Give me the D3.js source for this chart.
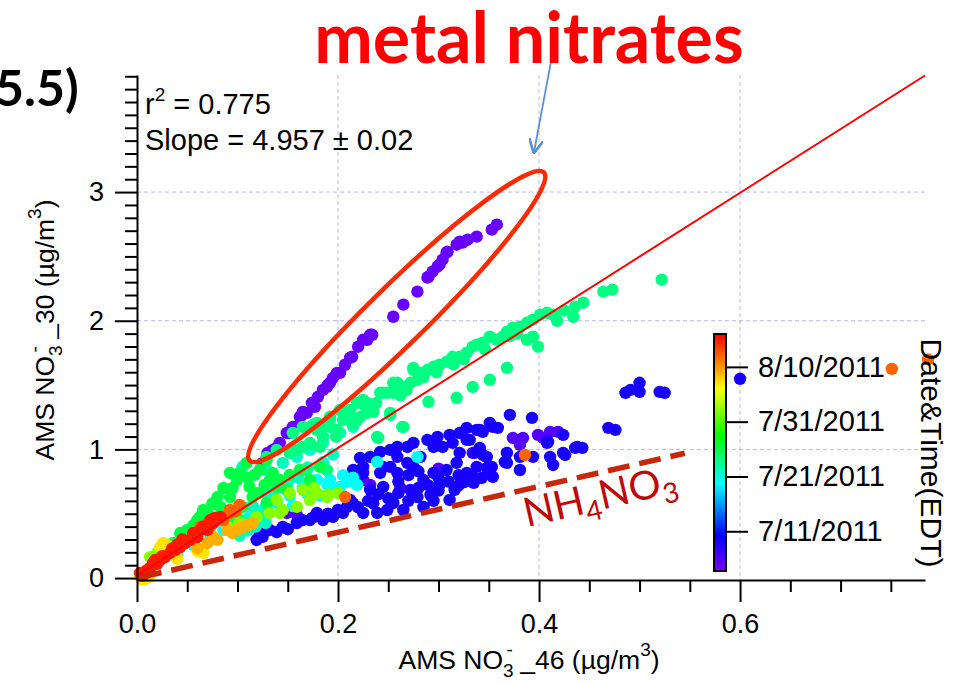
<!DOCTYPE html>
<html lang="en">
<head>
<meta charset="utf-8">
<title>AMS nitrate 30 vs 46</title>
<script src="https://d3js.org/d3.v7.min.js"></script>
<style>
  body { margin: 0; background: #fff; }
  svg text { font-family: "Liberation Sans", Arial, sans-serif; }
</style>
</head>
<body>
<script>
// points, grouped by (approximate) date of colour
var violetPts = [[0.358,2.747],[0.353,2.708],[0.338,2.654],[0.329,2.630],[0.321,2.615],[0.318,2.591],[0.324,2.607],[0.309,2.537],[0.308,2.529],[0.304,2.475],[0.301,2.436],[0.299,2.420],[0.294,2.381],[0.290,2.342],[0.289,2.335],[0.279,2.226],[0.265,2.125],[0.255,2.031],[0.234,1.891],[0.232,1.891],[0.229,1.852],[0.225,1.852],[0.220,1.798],[0.214,1.720],[0.212,1.712],[0.207,1.658],[0.202,1.595],[0.199,1.595],[0.195,1.556],[0.192,1.518],[0.190,1.502],[0.189,1.486],[0.185,1.463],[0.180,1.409],[0.177,1.331],[0.174,1.362],[0.169,1.284],[0.165,1.292],[0.164,1.268],[0.162,1.253],[0.157,1.175],[0.155,1.175],[0.152,1.128],[0.149,1.128],[0.142,1.051],[0.139,1.012],[0.135,0.996],[0.130,0.973],[0.130,0.957],[0.125,0.895]];
var blueVioletPts = [[0.374,1.089],[0.384,1.089],[0.381,1.035],[0.399,1.113],[0.411,1.136],[0.419,1.136],[0.404,1.089],[0.225,0.763],[0.232,0.724],[0.149,0.506],[0.159,0.490],[0.334,0.973],[0.262,0.700],[0.300,0.850]];
var bluePts = [[0.371,1.268],[0.393,1.245],[0.351,1.206],[0.359,1.167],[0.338,1.152],[0.344,1.136],[0.331,1.074],[0.341,1.012],[0.336,0.973],[0.344,0.957],[0.338,0.864],[0.348,0.856],[0.353,0.864],[0.354,0.786],[0.343,0.778],[0.334,0.786],[0.366,0.903],[0.368,0.973],[0.381,0.942],[0.381,0.840],[0.394,0.942],[0.409,1.058],[0.424,1.113],[0.411,0.942],[0.414,0.879],[0.426,0.957],[0.436,1.012],[0.443,1.012],[0.469,1.167],[0.476,1.152],[0.486,1.440],[0.491,1.463],[0.500,1.518],[0.500,1.447],[0.520,1.447],[0.525,1.440],
  [0.354,1.175],[0.341,1.152],[0.328,1.167],[0.321,1.128],[0.311,1.113],[0.299,1.097],[0.328,1.074],[0.314,1.051],[0.304,1.019],[0.295,1.019],[0.289,1.074],[0.275,1.051],[0.269,1.019],[0.259,1.019],[0.252,0.996],[0.242,0.981],[0.232,0.942],[0.222,0.934],[0.282,0.942],[0.321,0.973],[0.341,0.996],[0.269,0.895],[0.252,0.864],[0.225,0.864],[0.318,0.895],[0.348,0.942],[0.308,0.840],[0.295,0.817],[0.242,0.817],[0.215,0.840],[0.351,0.817],[0.328,0.817],[0.408,1.051],[0.424,0.973],[0.438,1.019],[0.368,0.895],
  [0.259,0.942],[0.245,0.864],[0.225,0.817],[0.219,0.763],[0.232,0.685],[0.212,0.607],[0.245,0.708],[0.259,0.817],[0.275,0.864],[0.285,0.763],[0.272,0.685],[0.255,0.584],[0.239,0.506],[0.225,0.506],[0.205,0.506],[0.195,0.475],[0.185,0.451],[0.172,0.451],[0.159,0.428],[0.145,0.397],[0.132,0.374],[0.122,0.350],[0.119,0.296],[0.285,0.553],[0.265,0.529],[0.279,0.630],[0.249,0.529],[0.209,0.553],[0.179,0.506],
  [0.301,0.724],[0.316,0.685],[0.326,0.747],[0.311,0.607],[0.292,0.646],[0.125,0.320],[0.139,0.358],[0.150,0.380],[0.600,1.549],
  [0.220,0.550],[0.235,0.580],[0.250,0.620],[0.260,0.660],[0.270,0.600],[0.280,0.700],[0.290,0.720],[0.300,0.780],[0.310,0.750],[0.320,0.800],[0.260,0.750],[0.240,0.650],[0.230,0.600],[0.215,0.580],[0.200,0.530],[0.190,0.500],[0.175,0.470],[0.165,0.450],[0.270,0.800],[0.280,0.830],[0.300,0.680],[0.320,0.720],[0.335,0.740],[0.295,0.600]];
var cyanPts = [[0.239,0.903],[0.279,0.942],[0.202,0.708],[0.192,0.763],[0.179,0.763],[0.165,0.708],[0.209,0.747],[0.219,0.724],[0.196,0.685],[0.152,0.640],[0.139,0.584],[0.125,0.529],[0.112,0.475],[0.099,0.428],[0.086,0.374],[0.073,0.319],[0.056,0.257],[0.040,0.187],[0.155,0.560],[0.182,0.640],[0.205,0.800],[0.215,0.780],[0.190,0.720],[0.170,0.650]];
var aquaPts = [[0.0925,0.397],[0.109,0.451],[0.125,0.506],[0.102,0.330],[0.115,0.560],[0.130,0.640],[0.145,0.700],[0.105,0.864],[0.129,0.840],[0.145,0.895],[0.159,0.942],[0.172,0.996],[0.185,1.051],[0.202,1.128],[0.215,1.175],[0.135,0.660],[0.160,0.780],[0.170,0.860],[0.080,0.470],[0.066,0.420],[0.118,0.400],[0.110,0.370],[0.128,0.430],[0.150,0.740],[0.185,0.900],[0.195,0.960]];
var greenPts = [[0.522,2.319],[0.473,2.241],[0.464,2.226],[0.444,2.140],[0.436,2.109],[0.434,2.031],[0.414,2.047],[0.408,2.062],[0.401,2.047],[0.394,2.008],[0.388,1.984],[0.381,1.953],[0.374,1.946],[0.399,1.798],[0.394,1.876],[0.388,1.852],[0.368,1.914],[0.364,1.876],[0.358,1.852],[0.351,1.876],[0.344,1.829],[0.338,1.813],[0.334,1.798],[0.368,1.634],[0.351,1.541],[0.334,1.486],[0.318,1.401],[0.290,1.370],[0.328,1.751],[0.321,1.720],[0.314,1.720],[0.308,1.681],[0.301,1.658],[0.295,1.642],[0.289,1.619],[0.282,1.595],[0.275,1.619],[0.279,1.541],[0.272,1.518],[0.265,1.486],[0.259,1.518],[0.255,1.440],[0.249,1.440],[0.242,1.440],[0.252,1.284],[0.265,1.175],[0.239,1.097],[0.229,1.284],[0.219,1.230],[0.209,1.284],[0.202,1.307],[0.192,1.230],[0.185,1.175],[0.175,1.191],[0.165,1.175],[0.155,1.128],
  [0.275,1.634],[0.255,1.518],[0.245,1.440],[0.235,1.292],[0.225,1.385],[0.222,1.253],[0.212,1.307],[0.205,1.230],[0.199,1.152],[0.192,1.175],[0.185,1.097],[0.179,1.152],[0.172,1.051],[0.165,1.019],[0.159,0.996],[0.152,0.973],[0.240,1.089],[0.252,1.268],[0.264,1.175],[0.179,1.206],[0.192,1.253],[0.205,1.292],[0.129,0.942],[0.139,0.996],[0.229,1.362],[0.219,1.362],[0.189,0.840],[0.169,0.840],
  [0.425,2.080],[0.418,2.000],[0.378,1.900],[0.371,1.880],[0.346,1.780],[0.325,1.700],[0.315,1.660],[0.298,1.600],[0.285,1.560],[0.268,1.460],[0.262,1.420],[0.238,1.360],[0.228,1.320],[0.215,1.200],[0.198,1.100],[0.182,1.020]];
var green2Pts = [[0.0995,0.763],[0.112,0.708],[0.0925,0.630],[0.083,0.553],[0.070,0.506],[0.060,0.451],[0.050,0.374],[0.043,0.350],[0.122,0.840],[0.135,0.817],[0.139,0.708],[0.149,0.685],[0.115,0.630],[0.105,0.553],[0.129,0.584],[0.0995,0.475],[0.090,0.451],[0.080,0.630],[0.066,0.529],[0.073,0.397],[0.053,0.296],[0.036,0.272],[0.026,0.218],[0.0925,0.817],[0.109,0.895],[0.129,0.918],[0.102,0.817],[0.162,0.840],[0.172,0.763],[0.152,0.802],[0.142,0.763],[0.127,0.724],[0.117,0.802],[0.182,0.864],
  [0.086,0.700],[0.075,0.580],[0.095,0.700],[0.110,0.780],[0.120,0.660],[0.132,0.760],[0.056,0.410],[0.046,0.320],[0.063,0.480]];
var yellowGreenPts = [[0.165,0.685],[0.152,0.661],[0.139,0.607],[0.179,0.661],[0.189,0.630],[0.172,0.607],[0.159,0.553],[0.145,0.529],[0.132,0.506],[0.119,0.475],[0.142,0.506],[0.102,0.428],[0.090,0.397],[0.020,0.195],[0.013,0.163],[0.176,0.700],[0.200,0.660],[0.190,0.650],[0.030,0.260]];
var yellowPts = [[0.003,0.008],[0.010,0.039],[0.023,0.241],[0.026,0.272],[0.066,0.195],[0.008,-0.008],[0.016,0.090],[0.040,0.150],[0.060,0.210],[0.005,-0.012],[0.012,0.010]];
var yellowOrangePts = [[0.090,0.374],[0.0995,0.374],[0.080,0.296],[0.070,0.272],[0.105,0.397],[0.115,0.428],[0.076,0.319],[0.060,0.233],[0.110,0.410],[0.095,0.350]];
var orangePts = [[0.0925,0.506],[0.086,0.451],[0.080,0.451],[0.0925,0.529],[0.102,0.568],[0.070,0.420],[0.063,0.400],[0.098,0.520],[0.207,0.630],[0.386,0.957],[0.751,1.626],[0.787,1.700]];
var redPts = [[0.063,0.374],[0.053,0.296],[0.043,0.241],[0.033,0.195],[0.023,0.140],[0.016,0.117],[0.010,0.062],[0.003,0.039],[0.073,0.451],[0.083,0.475],[0.060,0.319],[0.076,0.428],[0.070,0.374],[0.048,0.272],[0.038,0.218],[0.028,0.163],[0.006,0.020],[0.013,0.080],[0.020,0.110],
  [0.056,0.350],[0.066,0.400],[0.045,0.300],[0.035,0.230],[0.025,0.170],[0.018,0.140],[0.008,0.050],[0.040,0.260],[0.078,0.470]];

var groupPts = [violetPts, blueVioletPts, bluePts, cyanPts, aquaPts, greenPts, green2Pts, yellowGreenPts, yellowPts, yellowOrangePts, orangePts, redPts];
var groupDates = ["2011-07-05", "2011-07-06", "2011-07-09", "2011-07-20", "2011-07-22", "2011-07-24", "2011-07-26", "2011-08-02", "2011-08-07", "2011-08-09", "2011-08-12", "2011-08-15"];

var xMajor = [0, 0.2, 0.4, 0.6];
var yMajor = [0, 1, 2, 3];
var cbarTicks = ["2011-07-11", "2011-07-21", "2011-07-31", "2011-08-10"];
var cbarStops = [0, 0.15, 0.37, 0.57, 0.77, 0.88, 1];
var cbarColors = ["#7f00ff", "#0000ff", "#00ffff", "#00ff00", "#ffff00", "#ff8000", "#ff0000"];
var fitSlope = 4.957, fitIntercept = 0.02;
var nhSlope = 1.78;

var w = 963, h = 684;
var parse = d3.timeParse("%Y-%m-%d");

var svg = d3.select("body").append("svg")
    .attr("width", w).attr("height", h)
    .style("background", "#fff");

var x = d3.scaleLinear().domain([0, 0.784]).range([137, 925]);
var y = d3.scaleLinear().domain([-0.015, 3.91]).range([580, 75]);

var tScale = d3.scaleTime()
    .domain([new Date(2011, 6, 3, 18), new Date(2011, 7, 16, 0)])
    .range([0, 1]);
var color = d3.scaleLinear().domain(cbarStops).range(cbarColors);

// grid
var gridC = "#b8b8f0";
svg.append("g").selectAll("line").data(xMajor.slice(1)).enter().append("line")
    .attr("x1", d => x(d)).attr("x2", d => x(d))
    .attr("y1", y(3.91)).attr("y2", y(-0.015))
    .attr("stroke", gridC).attr("stroke-dasharray", "4,3");
svg.append("g").selectAll("line").data(yMajor.slice(1)).enter().append("line")
    .attr("x1", x(0)).attr("x2", x(0.784))
    .attr("y1", d => y(d)).attr("y2", d => y(d))
    .attr("stroke", gridC).attr("stroke-dasharray", "4,3");

// points
var pts = [];
groupPts.forEach(function(g, i) {
  var dt = parse(groupDates[i]);
  g.forEach(function(p) { pts.push({x: p[0], y: p[1], date: dt}); });
});
pts.sort((a, b) => a.date - b.date);

svg.append("g").selectAll("circle").data(pts).enter().append("circle")
    .attr("cx", d => x(d.x)).attr("cy", d => y(d.y))
    .attr("r", 6.2)
    .attr("fill", d => color(tScale(d.date)));

// fit line
svg.append("line")
    .attr("x1", x(0)).attr("y1", y(fitIntercept))
    .attr("x2", x(0.784)).attr("y2", y(fitSlope * 0.784 + fitIntercept))
    .attr("stroke", "#ff0000").attr("stroke-width", 2);

// NH4NO3 line
svg.append("line")
    .attr("x1", x(0.003)).attr("y1", y(nhSlope * 0.003))
    .attr("x2", x(0.545)).attr("y2", y(nhSlope * 0.545))
    .attr("stroke", "#c8280a").attr("stroke-width", 5.5)
    .attr("stroke-dasharray", "22,10");

// ellipse round the metal nitrates
var ec = [0.2584, 2.033];
svg.append("ellipse")
    .attr("transform", "translate(" + x(ec[0]) + "," + y(ec[1]) + ") rotate(-44.4)")
    .attr("rx", 206).attr("ry", 29)
    .attr("fill", "none").attr("stroke", "#ff2a00").attr("stroke-width", 4.5);

// arrow
var a0 = [0.413, 4.06], a1 = [0.395, 3.31];
svg.append("defs").append("marker")
    .attr("id", "ah").attr("viewBox", "0 0 10 10")
    .attr("refX", 9).attr("refY", 5)
    .attr("markerWidth", 8).attr("markerHeight", 8)
    .attr("orient", "auto")
  .append("path").attr("d", "M0,0L10,5L0,10")
    .attr("fill", "none").attr("stroke", "#5b8fd0").attr("stroke-width", 1.8);
svg.append("line")
    .attr("x1", x(a0[0])).attr("y1", y(a0[1]))
    .attr("x2", x(a1[0])).attr("y2", y(a1[1]))
    .attr("stroke", "#5b8fd0").attr("stroke-width", 1.8)
    .attr("marker-end", "url(#ah)");

// axes
var xAxis = svg.append("g").attr("transform", "translate(0," + y(-0.015) + ")");
xAxis.call(d3.axisBottom(x).tickValues(d3.range(0.05, 0.78, 0.05).filter(d => Math.abs(d * 5 - Math.round(d * 5)) > 0.01))
    .tickSize(12).tickSizeOuter(0).tickFormat(""));
xAxis.call(g => g.select(".domain").remove());
var xAxisMaj = svg.append("g").attr("transform", "translate(0," + y(-0.015) + ")")
    .call(d3.axisBottom(x).tickValues(xMajor).tickSize(22).tickSizeOuter(0)
      .tickPadding(12).tickFormat(d3.format(".1f")));

var yAxis = svg.append("g").attr("transform", "translate(" + x(0) + ",0)");
yAxis.call(d3.axisLeft(y).tickValues(d3.range(0.1, 3.95, 0.1).filter(d => Math.abs(d - Math.round(d)) > 0.01))
    .tickSize(12).tickSizeOuter(0).tickFormat(""));
yAxis.call(g => g.select(".domain").remove());
var yAxisMaj = svg.append("g").attr("transform", "translate(" + x(0) + ",0)")
    .call(d3.axisLeft(y).tickValues(yMajor).tickSize(22).tickSizeOuter(0)
      .tickPadding(11).tickFormat(d3.format("d")));

svg.selectAll(".tick line").attr("stroke-width", 2);
svg.selectAll(".domain").attr("stroke-width", 2);
svg.selectAll(".tick text").style("font-size", "27px").attr("fill", "#000");

// axis titles
function chemLabel(sel, name) {
  sel.append("tspan").text("AMS NO");
  sel.append("tspan").text("3").attr("font-size", "19px").attr("dy", 8);
  sel.append("tspan").text("-").attr("font-size", "19px").attr("dy", -21).attr("dx", -7);
  sel.append("tspan").text(" _" + name + "  (\u00b5g/m").attr("dy", 13);
  sel.append("tspan").text("3").attr("font-size", "19px").attr("dy", -13);
  sel.append("tspan").text(")").attr("dy", 13);
}
svg.append("text")
    .attr("x", 529).attr("y", 669)
    .attr("text-anchor", "middle").style("font-size", "26.5px")
    .call(chemLabel, "46");
svg.append("text")
    .attr("transform", "translate(54,330) rotate(-90)")
    .attr("text-anchor", "middle").style("font-size", "26.5px")
    .call(chemLabel, "30");

// stats text
var r2 = svg.append("text").attr("x", 145).attr("y", 114).style("font-size", "29px");
r2.append("tspan").text("r");
r2.append("tspan").text("2").attr("font-size", "19px").attr("dy", -13);
r2.append("tspan").text(" = 0.775").attr("dy", 13);
svg.append("text").attr("x", 145).attr("y", 150).style("font-size", "29px")
    .text("Slope = 4.957 \u00b1 0.02");

// titles
svg.append("text").attr("x", 529).attr("y", 63)
    .attr("text-anchor", "middle")
    .style("font-family", "Lato, 'Open Sans', sans-serif")
    .style("font-weight", "bold").style("font-size", "70px")
    .attr("fill", "#ff0000").text("metal nitrates");
svg.append("text").attr("x", -5).attr("y", 106)
    .style("font-family", "Lato, 'Open Sans', sans-serif")
    .style("font-weight", "bold").style("font-size", "50px")
    .text("5.5)");

var nh = svg.append("text")
    .attr("transform", "translate(527,527) rotate(-13)")
    .style("font-family", "Lato, 'Open Sans', sans-serif")
    .style("font-size", "40px").attr("fill", "#c00808");
nh.append("tspan").text("NH");
nh.append("tspan").text("4").attr("font-size", "28px").attr("dy", 9);
nh.append("tspan").text("NO").attr("dy", -9);
nh.append("tspan").text("3").attr("font-size", "28px").attr("dy", 9);

// colour bar
var cb = {x: 714, y: 334, w: 12, h: 237};
var grad = svg.select("defs").append("linearGradient")
    .attr("id", "cbg").attr("x1", 0).attr("y1", 1).attr("x2", 0).attr("y2", 0);
grad.selectAll("stop").data(cbarStops).enter().append("stop")
    .attr("offset", d => d).attr("stop-color", (d, i) => cbarColors[i]);
svg.append("rect")
    .attr("x", cb.x).attr("y", cb.y).attr("width", cb.w).attr("height", cb.h)
    .attr("fill", "url(#cbg)").attr("stroke", "#000").attr("stroke-width", 2);
var cy = d3.scaleTime().domain(tScale.domain()).range([cb.y + cb.h, cb.y]);
svg.append("g").attr("transform", "translate(" + (cb.x + cb.w + 1) + ",0)")
    .call(d3.axisRight(cy).tickValues(cbarTicks.map(parse)).tickSize(21).tickPadding(10)
      .tickFormat(d3.timeFormat("%-m/%-d/%Y")))
    .call(g => g.select(".domain").remove())
    .call(g => g.selectAll(".tick line").attr("stroke-width", 2))
    .call(g => g.selectAll(".tick text").style("font-size", "29px").attr("fill", "#000"));

svg.append("text")
    .attr("transform", "translate(921,453) rotate(90)")
    .attr("text-anchor", "middle").style("font-size", "30px")
    .text("Date&Time(EDT)");
</script>
</body>
</html>
